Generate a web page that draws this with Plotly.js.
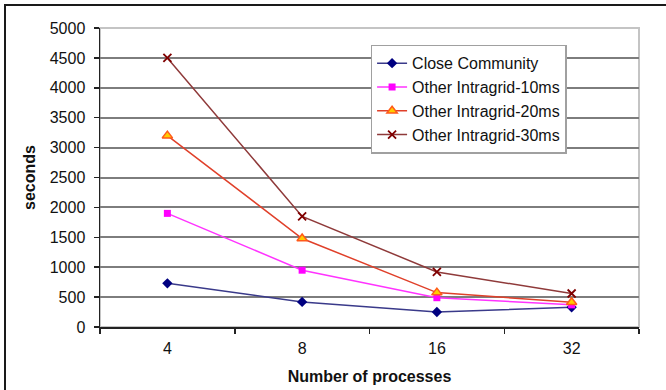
<!DOCTYPE html>
<html>
<head>
<meta charset="utf-8">
<script src="https://cdn.plot.ly/plotly-3.0.1.min.js"></script>
<style>
  html, body { margin: 0; padding: 0; background: #fff; }
  #chart { position: absolute; left: 0; top: 0; width: 666px; height: 390px; }
  #frame { position: absolute; left: 4px; top: 4px; width: 670px; height: 400px;
           border-top: 2px solid #1a1a1a; border-left: 2px solid #1a1a1a; pointer-events: none; }
</style>
</head>
<body>
<div id="chart"></div>
<div id="frame"></div>
<script>
const categories = ['4', '8', '16', '32'];
const closeCommunity = [730, 420, 250, 330];
const intragrid10 = [1900, 950, 490, 370];
const intragrid20 = [3200, 1480, 575, 415];
const intragrid30 = [4500, 1850, 920, 560];
const seriesNames = ['Close Community', 'Other Intragrid-10ms', 'Other Intragrid-20ms', 'Other Intragrid-30ms'];

const traces = [
  { x: categories, y: closeCommunity, name: seriesNames[0], type: 'scatter', mode: 'lines+markers',
    line: { color: '#3a3a8a', width: 1.5 },
    marker: { symbol: 'diamond', size: 8, color: '#000080', line: { width: 0 } } },
  { x: categories, y: intragrid10, name: seriesNames[1], type: 'scatter', mode: 'lines+markers',
    line: { color: '#ff33ff', width: 1.5 },
    marker: { symbol: 'square', size: 7, color: '#ff00ff', line: { width: 0 } } },
  { x: categories, y: intragrid20, name: seriesNames[2], type: 'scatter', mode: 'lines+markers',
    line: { color: '#e0402a', width: 1.5 },
    marker: { symbol: 'triangle-up', size: 9, color: '#ffcc00', line: { color: '#ff5a1a', width: 1.5 } } },
  { x: categories, y: intragrid30, name: seriesNames[3], type: 'scatter', mode: 'lines+markers',
    line: { color: '#8f3a3a', width: 1.5 },
    marker: { symbol: 'x-thin', size: 8, color: '#800000', line: { color: '#800000', width: 1.8 } } }
];

const layout = {
  width: 666, height: 390,
  margin: { l: 100, r: 27, t: 28, b: 63 },
  paper_bgcolor: '#ffffff', plot_bgcolor: '#ffffff',
  font: { family: '"Liberation Sans", Arial, sans-serif', size: 16, color: '#111' },
  showlegend: true,
  legend: {
    x: 0.502, y: 0.944, xanchor: 'left', yanchor: 'top',
    bgcolor: '#ffffff', bordercolor: '#a0a0a0', borderwidth: 1.5,
    font: { size: 16, color: '#111' }
  },
  xaxis: {
    type: 'category', range: [-0.5, 3.5],
    showgrid: false, zeroline: false,
    showline: true, linecolor: '#222', linewidth: 1.5,
    ticks: 'outside', ticklen: 5, tickcolor: '#222', tickwidth: 1.5, tickson: 'boundaries',
    ticklabelstandoff: 6,
    tickfont: { size: 16 },
    title: { text: '<b>Number of processes</b>', font: { size: 16 }, standoff: 15 }
  },
  yaxis: {
    range: [0, 5000], dtick: 500, tick0: 0,
    showgrid: true, gridcolor: '#7d7d7d', gridwidth: 2,
    zeroline: false,
    showline: true, linecolor: '#222', linewidth: 1.5,
    ticks: 'outside', ticklen: 5, tickcolor: '#222', tickwidth: 1.5,
    ticklabelstandoff: 5,
    tickfont: { size: 16 },
    title: { text: '<b>seconds</b>', font: { size: 16 }, standoff: 10 }
  },
  shapes: [
    { type: 'rect', xref: 'paper', yref: 'paper', x0: 0, x1: 1, y0: 0, y1: 1,
      line: { color: '#c4c4c4', width: 2 }, layer: 'below' }
  ]
};

Plotly.newPlot('chart', traces, layout, { displayModeBar: false, staticPlot: true });
</script>
</body>
</html>
